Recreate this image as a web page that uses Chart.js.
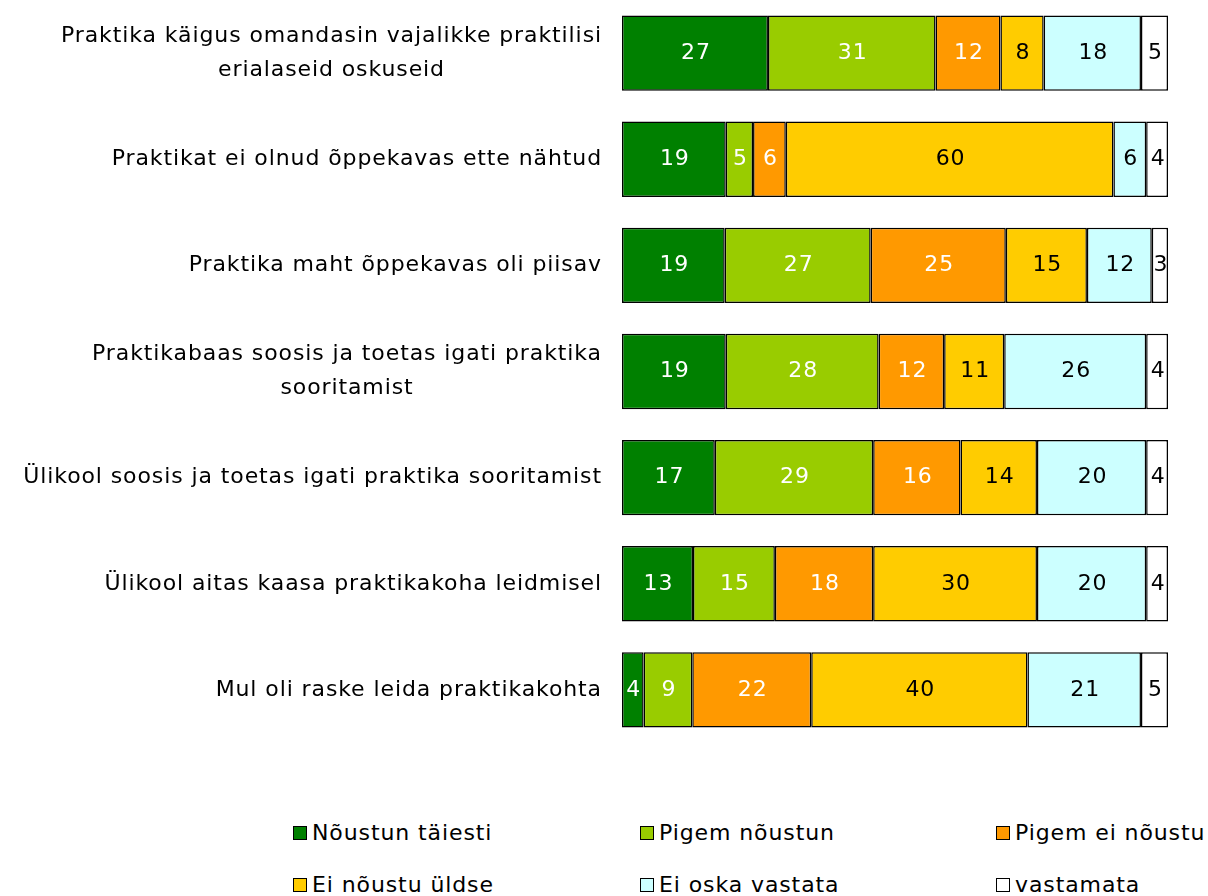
<!DOCTYPE html>
<html>
<head>
<meta charset="utf-8">
<script src="https://cdn.jsdelivr.net/npm/chart.js@4.4.1/dist/chart.umd.min.js"></script>
<style>
    body { margin: 0; background: #fff; font-family: "DejaVu Sans", Verdana, sans-serif; }
    #wrap { position: relative; width: 1208px; height: 743px; }
    #legend { position: absolute; left: 0; top: 810px; width: 1208px; height: 86px; }
    .item { position: absolute; display: flex; align-items: center; font-size: 22px; letter-spacing: 0.9px; color: #000; white-space: nowrap; }
    .box { width: 14px; height: 14px; border: 1.5px solid #000; margin-right: 5px; box-sizing: border-box; }
</style>
</head>
<body>
<div id="wrap"><canvas id="chart"></canvas></div>
<div id="legend"></div>
<script>
// statements (lines split where the original wraps)
var categories = [
    ["Praktika käigus omandasin vajalikke praktilisi", "erialaseid oskuseid"],
    ["Praktikat ei olnud õppekavas ette nähtud"],
    ["Praktika maht õppekavas oli piisav"],
    ["Praktikabaas soosis ja toetas igati praktika", "sooritamist"],
    ["Ülikool soosis ja toetas igati praktika sooritamist"],
    ["Ülikool aitas kaasa praktikakoha leidmisel"],
    ["Mul oli raske leida praktikakohta"]
];
var seriesNames = ["Nõustun täiesti", "Pigem nõustun", "Pigem ei nõustu", "Ei nõustu üldse", "Ei oska vastata", "vastamata"];
var noustunTaiesti = [27, 19, 19, 19, 17, 13, 4];
var pigemNoustun   = [31, 5, 27, 28, 29, 15, 9];
var pigemEiNoustu  = [12, 6, 25, 12, 16, 18, 22];
var eiNoustuYldse  = [8, 60, 15, 11, 14, 30, 40];
var eiOskaVastata  = [18, 6, 12, 26, 20, 20, 21];
var vastamata      = [5, 4, 3, 4, 4, 4, 5];

var colors = ["#008000", "#99CC00", "#FF9900", "#FFCC00", "#CCFFFF", "#FFFFFF"];
var labelColors = ["#fff", "#fff", "#fff", "#000", "#000", "#000"];
var series = [noustunTaiesti, pigemNoustun, pigemEiNoustu, eiNoustuYldse, eiOskaVastata, vastamata];

// rows are shown as 100% (some rounded rows add to 101)
var totals = categories.map(function (c, i) {
    return series.reduce(function (s, arr) { return s + arr[i]; }, 0);
});

var datasets = series.map(function (arr, k) {
    return {
        label: seriesNames[k],
        data: arr.map(function (v, i) { return v / totals[i] * 100; }),
        raw: arr,
        backgroundColor: colors[k],
        borderColor: "#000",
        borderWidth: 1.5,
        borderSkipped: false,
        barPercentage: 0.71,
        categoryPercentage: 1
    };
});

var FONT = '"DejaVu Sans", Verdana, sans-serif';

var drawLabels = {
    id: "drawLabels",
    afterDatasetsDraw: function (chart) {
        var ctx = chart.ctx;
        ctx.save();
        ctx.font = "22px " + FONT;
        ctx.letterSpacing = "0.9px";
        ctx.textBaseline = "middle";
        ctx.textAlign = "center";
        chart.data.datasets.forEach(function (ds, k) {
            var meta = chart.getDatasetMeta(k);
            meta.data.forEach(function (bar, i) {
                ctx.fillStyle = labelColors[k];
                ctx.fillText(ds.raw[i], (bar.x + bar.base) / 2 + 1, bar.y);
            });
        });
        // category labels, lines centred within a right-aligned block
        var y = chart.scales.y;
        var right = chart.chartArea.left - 20;
        categories.forEach(function (lines, i) {
            var cy = y.getPixelForValue(i);
            var w = Math.max.apply(null, lines.map(function (l) { return ctx.measureText(l).width; }));
            var lh = 34;
            ctx.fillStyle = "#000";
            lines.forEach(function (l, j) {
                ctx.fillText(l, right - w / 2, cy + (j - (lines.length - 1) / 2) * lh);
            });
        });
        ctx.restore();
    }
};

new Chart("chart", {
    type: "bar",
    data: {
        labels: categories,
        datasets: datasets
    },
    options: {
        indexAxis: "y",
        responsive: true,
        maintainAspectRatio: false,
        animation: false,
        layout: { padding: { left: 622, right: 40, top: 0, bottom: 0 } },
        plugins: {
            legend: { display: false },
            tooltip: { enabled: false }
        },
        scales: {
            x: { stacked: true, min: 0, max: 100, display: false },
            y: { stacked: true, display: false }
        }
    },
    plugins: [drawLabels]
});

// legend: 3 columns x 2 rows
var legend = document.getElementById("legend");
var colX = [293, 640, 996];
var rowY = [23, 75];
seriesNames.forEach(function (name, k) {
    var d = document.createElement("div");
    d.className = "item";
    d.style.left = colX[k % 3] + "px";
    d.style.top = (rowY[Math.floor(k / 3)] - 13) + "px";
    d.innerHTML = '<span class="box" style="background:' + colors[k] + '"></span>' + name;
    legend.appendChild(d);
});
</script>
</body>
</html>
